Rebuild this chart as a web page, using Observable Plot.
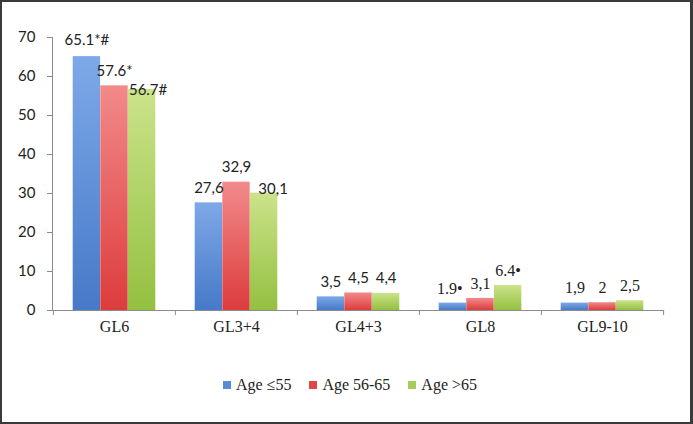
<!DOCTYPE html>
<html>
<head>
<meta charset="utf-8">
<script src="https://cdn.jsdelivr.net/npm/d3@7"></script>
<script src="https://cdn.jsdelivr.net/npm/@observablehq/plot@0.6"></script>
<style>
  body { margin: 0; background: #fff; }
  #frame {
    position: relative; width: 693px; height: 424px; box-sizing: border-box;
    border: 2px solid #3a3a3a; border-right-width: 3px; background: #fff; overflow: hidden;
  }
  #chart { position: absolute; left: 0; top: 0; }
  #legend {
    position: absolute; left: 0; right: 0; top: 374px; display: flex; justify-content: center;
    gap: 18px; font-family: "Liberation Serif", serif; font-size: 16px; color: #222;
    padding-left: 8px;
  }
  #legend span.item { display: flex; align-items: center; }
  #legend span.sw { display: inline-block; width: 8px; height: 8px; margin-right: 5px; }
</style>
</head>
<body>
<div id="frame">
  <div id="chart"></div>
  <div id="legend"></div>
</div>
<script>
const groups = ["GL6", "GL3+4", "GL4+3", "GL8", "GL9-10"];
const series = ["Age \u226455", "Age 56-65", "Age >65"];
const age55 = [65.1, 27.6, 3.5, 1.9, 1.9];
const age5665 = [57.6, 32.9, 4.5, 3.1, 2];
const age65 = [56.7, 30.1, 4.4, 6.4, 2.5];
const labels55 = ["65.1*#", "27,6", "3,5", "1.9\u2022", "1,9"];
const labels5665 = ["57.6*", "32,9", "4,5", "3,1", "2"];
const labels65 = ["56.7#", "30,1", "4,4", "6.4\u2022", "2,5"];
const yTicks = [0, 10, 20, 30, 40, 50, 60, 70];

const seriesValues = [age55, age5665, age65];
const seriesLabels = [labels55, labels5665, labels65];
const colors = [
  {id: "gBlue", top: "#7ea9e8", bottom: "#4679c8", sw: "#5a8ad4"},
  {id: "gRed", top: "#f28a8a", bottom: "#dc3c3c", sw: "#e04848"},
  {id: "gGreen", top: "#cbe38a", bottom: "#94c040", sw: "#a8cc58"}
];
const barW = 27.6;
const offsets = [-barW, 0, barW];
const sansGroups = new Set(["GL6", "GL3+4", "GL4+3"]);

const rows = series.map((s, si) => groups.map((g, gi) => ({
  group: g, series: s, si, value: seriesValues[si][gi], label: seriesLabels[si][gi]
})));

// label placement adjustments (pixels)
const special = {
  "GL6|0": {dx: 0, dy: -16},
  "GL6|1": {dx: 0, dy: -15},
  "GL6|2": {dx: 6, dy: 1},
  "GL3+4|2": {dx: 9, dy: -4},
  "GL8|0": {dx: -3, dy: -14}
};

const defsMark = () => {
  const defs = d3.create("svg:defs");
  for (const c of colors) {
    const lg = defs.append("linearGradient").attr("id", c.id).attr("x1", 0).attr("y1", 0).attr("x2", 0).attr("y2", 1);
    lg.append("stop").attr("offset", "0%").attr("stop-color", c.top);
    lg.append("stop").attr("offset", "100%").attr("stop-color", c.bottom);
  }
  return defs.node();
};

const marks = [defsMark];
const inset = (122.2 - barW) / 2;
series.forEach((s, si) => {
  marks.push(Plot.barY(rows[si], {
    x: "group", y: "value", fill: `url(#${colors[si].id})`,
    insetLeft: inset, insetRight: inset, dx: offsets[si]
  }));
});
marks.push(Plot.frame({anchor: "left", stroke: "#8c8c8c"}));
marks.push(Plot.ruleY([0], {stroke: "#8c8c8c"}));
// category boundary ticks
marks.push(Plot.ruleX(groups, {x: d => d, y1: 0, y2: 0, insetBottom: -5, dx: -61.1, stroke: "#8c8c8c"}));
marks.push(Plot.ruleX([groups[groups.length - 1]], {x: d => d, y1: 0, y2: 0, insetBottom: -5, dx: 61.1, stroke: "#8c8c8c"}));

series.forEach((s, si) => {
  const normal = rows[si].filter(d => !special[`${d.group}|${si}`]);
  marks.push(Plot.text(normal.filter(d => sansGroups.has(d.group)), {
    x: "group", y: "value", text: "label", dx: offsets[si], dy: -15,
    fontFamily: "Lato, sans-serif", fontSize: 15, fill: "#222"
  }));
  marks.push(Plot.text(normal.filter(d => !sansGroups.has(d.group)), {
    x: "group", y: "value", text: "label", dx: offsets[si], dy: -15,
    fontFamily: "Liberation Serif, serif", fontSize: 16, fill: "#222"
  }));
  rows[si].filter(d => special[`${d.group}|${si}`]).forEach(d => {
    const sp = special[`${d.group}|${si}`];
    marks.push(Plot.text([d], {
      x: "group", y: "value", text: "label", dx: offsets[si] + sp.dx, dy: sp.dy,
      fontFamily: sansGroups.has(d.group) ? "Lato, sans-serif" : "Liberation Serif, serif",
      fontSize: sansGroups.has(d.group) ? 15 : 16, fill: "#222"
    }));
  });
});

marks.push(Plot.axisY({ticks: yTicks, tickSize: 5, tickPadding: 12, stroke: "#8c8c8c",
  fontFamily: "Lato, sans-serif", fontSize: 15, label: null, color: "#222"}));
marks.push(Plot.axisX({tickSize: 0, tickPadding: 10, fontFamily: "Liberation Serif, serif",
  fontSize: 16, label: null, color: "#222"}));

const chart = Plot.plot({
  width: 688, height: 350,
  marginLeft: 50, marginRight: 27, marginTop: 35, marginBottom: 42,
  style: {background: "transparent", overflow: "visible"},
  x: {domain: groups, padding: 0},
  y: {domain: [0, 70]},
  marks
});
chart.querySelectorAll("g[aria-label='y-axis tick'] path, g[aria-label='y-axis tick']").forEach(el => el.setAttribute("stroke", "#8c8c8c"));
document.getElementById("chart").appendChild(chart);

const legend = document.getElementById("legend");
series.forEach((s, si) => {
  const item = document.createElement("span");
  item.className = "item";
  const sw = document.createElement("span");
  sw.className = "sw";
  sw.style.background = colors[si].sw;
  item.appendChild(sw);
  item.appendChild(document.createTextNode(s));
  legend.appendChild(item);
});
</script>
</body>
</html>
